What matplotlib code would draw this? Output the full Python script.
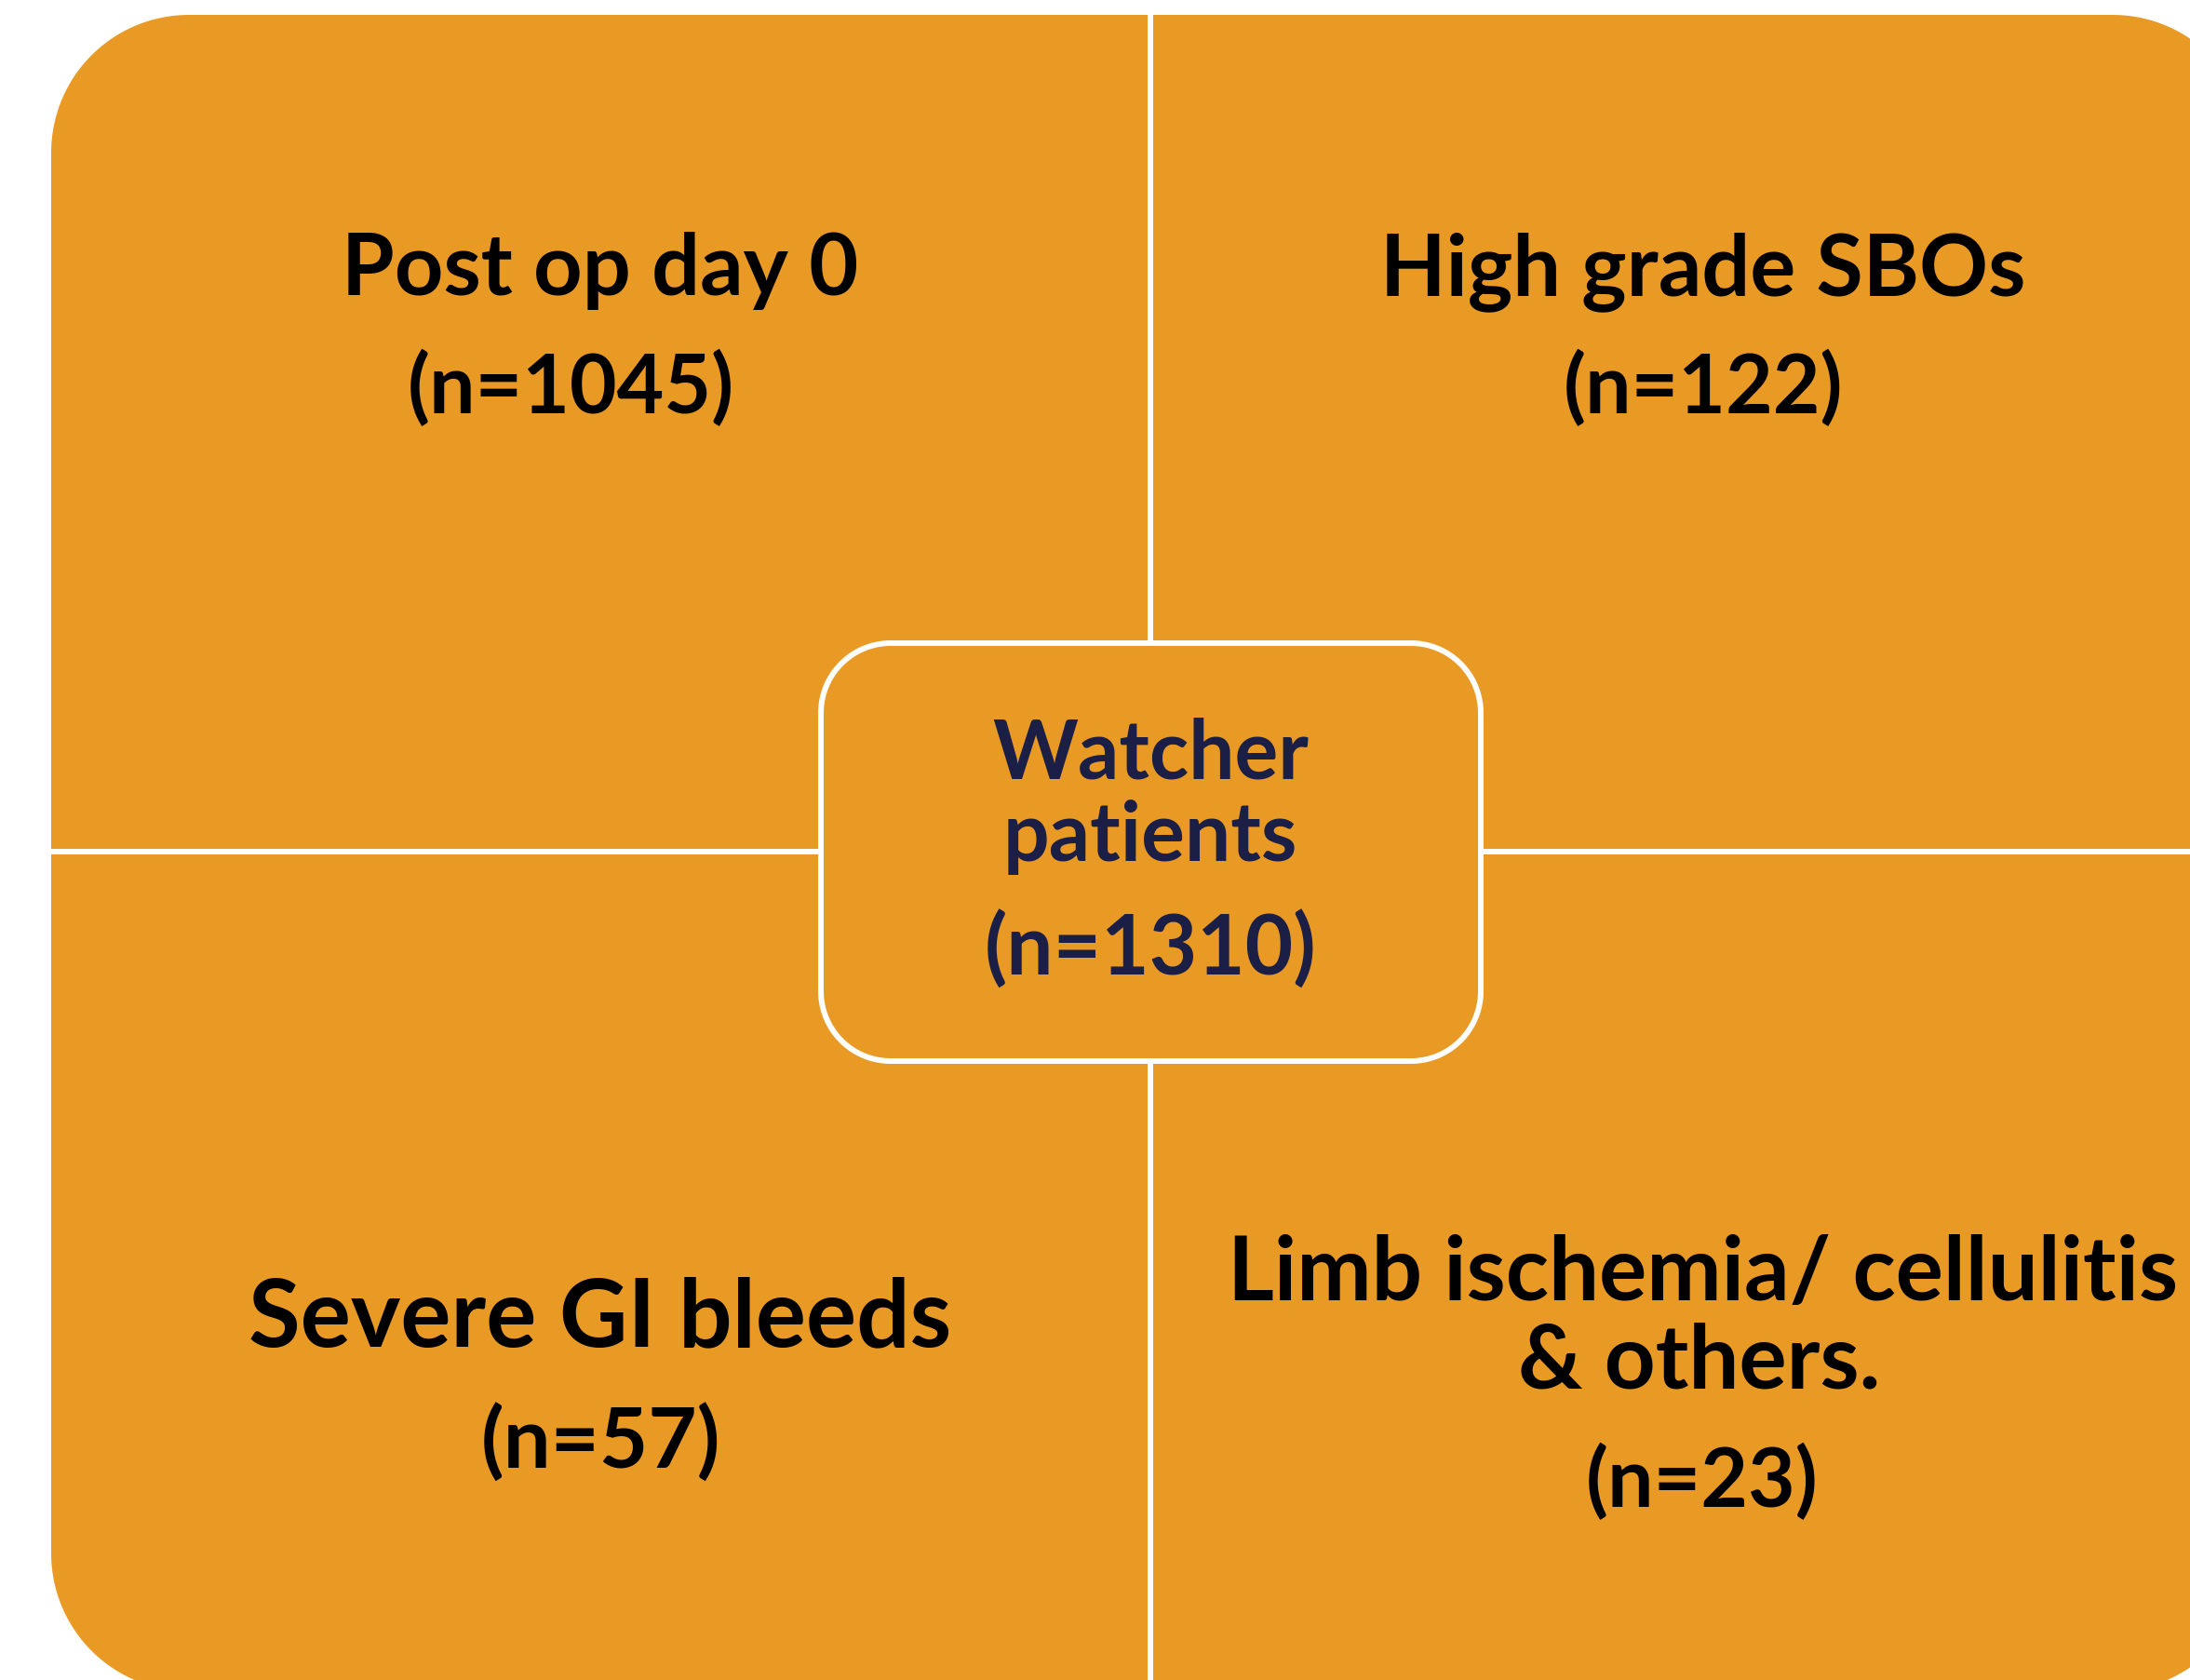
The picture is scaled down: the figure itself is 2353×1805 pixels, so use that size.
import numpy as np
import matplotlib.pyplot as plt
from matplotlib.patches import Polygon

# quadrant labels and counts (TL, TR, BL, BR)
groups = ["Post op day 0", "High grade SBOs", "Severe GI bleeds",
          "Limb ischemia/ cellulitis\n& others."]
counts = [1045, 122, 57, 23]
center_label = ["Watcher", "patients"]
total = 1310

ORANGE = '#E99A24'
NAVY = '#1B1F45'


def rounded_rect(x0, y0, x1, y1, r, n=40):
    # corners with true circular arcs (y axis points down)
    pts = []
    corners = [(x1 - r, y0 + r, -90, 0), (x1 - r, y1 - r, 0, 90),
               (x0 + r, y1 - r, 90, 180), (x0 + r, y0 + r, 180, 270)]
    for ccx, ccy, a0, a1 in corners:
        t = np.radians(np.linspace(a0, a1, n))
        pts += list(zip(ccx + r * np.cos(t), ccy + r * np.sin(t)))
    return np.array(pts)


W, H = 2353, 1806
fig = plt.figure(figsize=(W / 100, H / 100), dpi=100)
ax = fig.add_axes([0, 0, 1, 1])
ax.set_xlim(0, W)
ax.set_ylim(H, 0)
ax.axis('off')

# outer rounded block (runs off the right / bottom edge like the source)
x0, y0, x1, y1 = 55, 17, 2418, 1818
ax.add_patch(Polygon(rounded_rect(x0, y0, x1, y1, 148), closed=True,
                     fc=ORANGE, ec='none'))

cx, cy = 1236, 916
lw = 4.3
ax.plot([cx, cx], [y0, y1], color='white', lw=lw, solid_capstyle='butt')
ax.plot([x0, x1], [cy, cy], color='white', lw=lw, solid_capstyle='butt')

# centre box
ax.add_patch(Polygon(rounded_rect(882, 692, 1591, 1141, 75), closed=True,
                     fc=ORANGE, ec='white', lw=lw, zorder=3))

font = ['Lato', 'DejaVu Sans']
title_fs = [66, 66, 73, 69]
count_fs = [63, 63, 65, 63]

# where each quadrant's lines sit: (x, baseline)
title_pos = [[(645, 317)], [(1830, 317)], [(645, 1446)], [(1830, 1397), (1826, 1492)]]
count_pos = [(613, 444), (1830, 444), (645, 1578), (1829, 1619)]

for g, n, tp, cp, tfs, cfs in zip(groups, counts, title_pos, count_pos, title_fs, count_fs):
    for line, (tx, ty) in zip(g.split('\n'), tp):
        ax.text(tx, ty, line, ha='center', va='baseline', fontsize=tfs,
                fontweight='bold', family=font, color='black', zorder=4)
    ax.text(cp[0], cp[1], '(n=%d)' % n, ha='center', va='baseline', fontsize=cfs,
            fontweight='bold', family=font, color='black', zorder=4)

for line, ty in zip(center_label, [837, 925]):
    ax.text(cx, ty, line, ha='center', va='baseline', fontsize=63,
            fontweight='bold', family=font, color=NAVY, zorder=4)
ax.text(cx, 1048, '(n=%d)' % total, ha='center', va='baseline', fontsize=64,
        fontweight='bold', family=font, color=NAVY, zorder=4)

fig.savefig('out.png', dpi=100, facecolor='white')
